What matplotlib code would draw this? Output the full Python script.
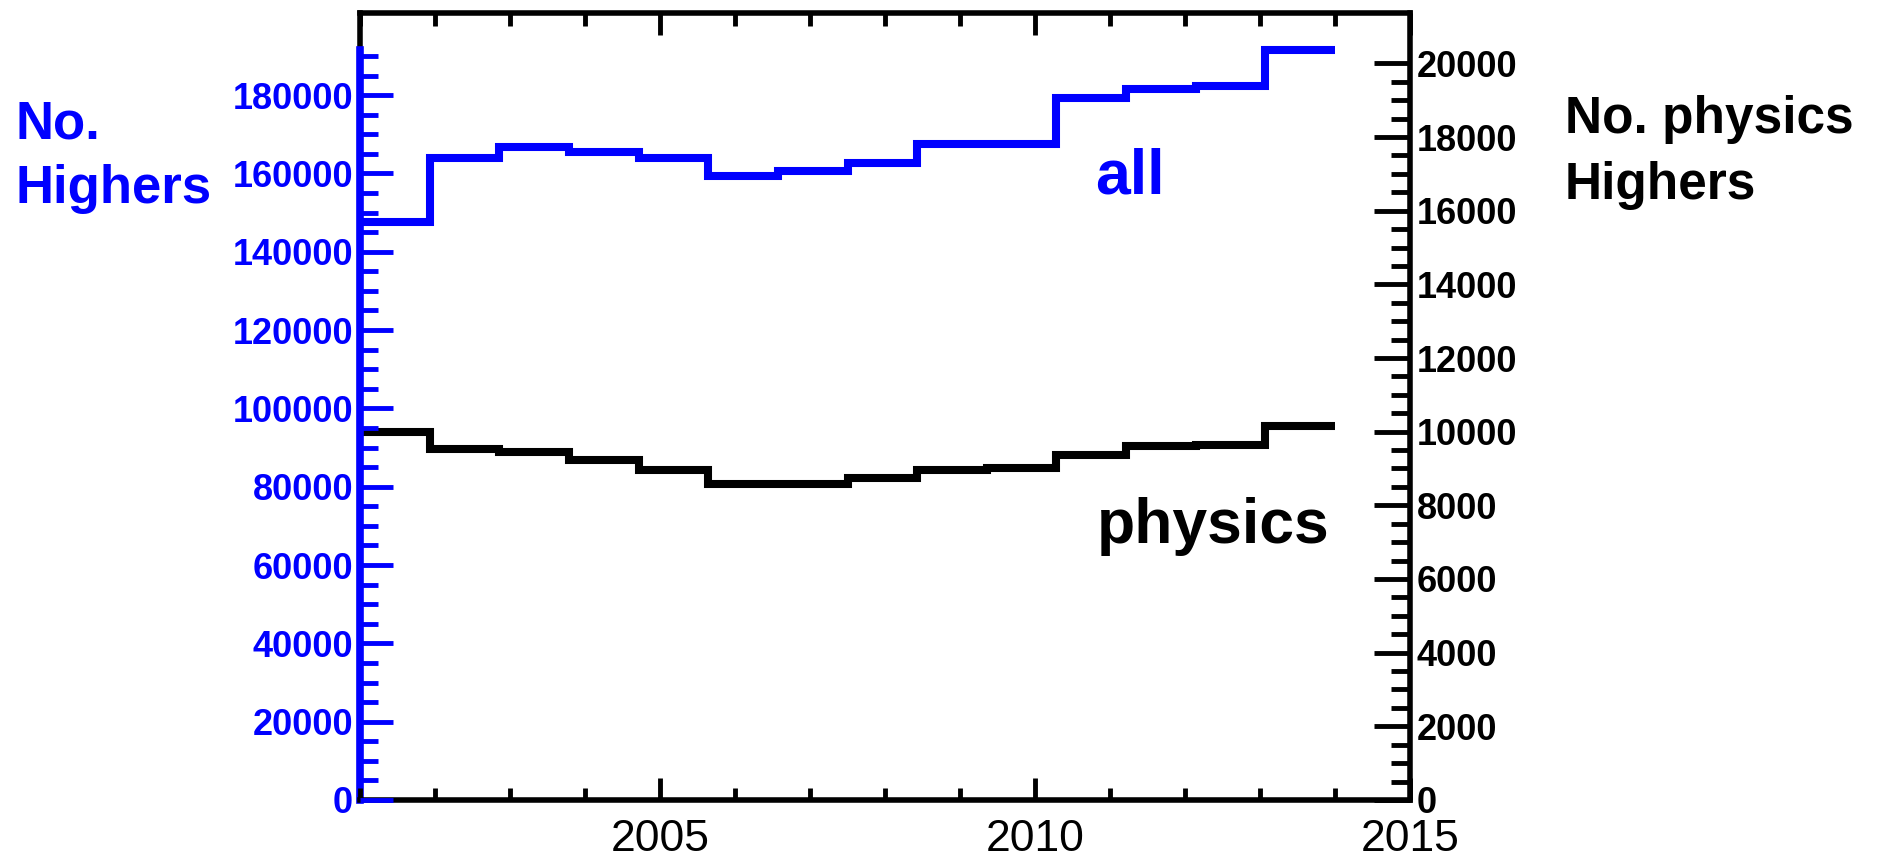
import matplotlib.pyplot as plt
import numpy as np

plt.rcParams['font.family'] = ['Liberation Sans', 'DejaVu Sans']

# 14 yearly bins, histogram spans 2001-2014
years = list(range(2001, 2015))
all_highers = [147700, 164000, 166700, 165500, 164000, 159300, 160700,
               162700, 167600, 167600, 179200, 181500, 182400, 191400]
physics_highers = [9990, 9530, 9460, 9230, 8950, 8590, 8590,
                   8740, 8950, 9020, 9370, 9620, 9640, 10150]
x_ticks = [2005, 2010, 2015]
left_ticks = list(range(0, 180001, 20000))
right_ticks = list(range(0, 20001, 2000))

bin_edges = np.linspace(years[0], years[-1], len(years) + 1)

fig = plt.figure(figsize=(18.85, 8.59), dpi=100)
ax = fig.add_subplot(111)
ax2 = ax.twinx()
fig.subplots_adjust(left=0.191, right=0.748, bottom=0.0687, top=0.985)

# left axis (all) drawn above the right one so the blue axis sits on top
ax.set_zorder(ax2.get_zorder() + 1)
ax.patch.set_visible(False)
ax.set_axisbelow(False)

ax.stairs(all_highers, bin_edges, baseline=None, color='#0000ff', lw=5.8)
ax2.stairs(physics_highers, bin_edges, baseline=None, color='black', lw=5.8)

ax.set_xlim(2001, 2015)
ax.set_ylim(0, 201000)
ax2.set_ylim(0, 21370)

# frame
for side in ['top', 'bottom']:
    ax.spines[side].set_linewidth(4)
    ax.spines[side].set_color('black')
ax.spines['right'].set_visible(False)
ax.spines['left'].set_color('#0000ff')
ax.spines['left'].set_linewidth(5.5)
ax.spines['left'].set_bounds(0, max(all_highers))
for side in ['left', 'right']:
    ax2.spines[side].set_linewidth(4)
    ax2.spines[side].set_color('black')
ax2.spines['top'].set_visible(False)
ax2.spines['bottom'].set_visible(False)

# x axis
ax.set_xticks(x_ticks, labels=[str(v) for v in x_ticks], fontsize=32)
ax.set_xticks(range(2001, 2016), minor=True)
ax.tick_params(axis='x', which='both', direction='in', top=True, width=3.5, pad=14,
               colors='black')
ax.tick_params(axis='x', which='major', length=16)
ax.tick_params(axis='x', which='minor', length=9)

# left y axis
ax.set_yticks(left_ticks, labels=[str(v) for v in left_ticks],
              fontsize=26, fontweight='bold', color='#0000ff')
ax.set_yticks(range(0, 190001, 5000), minor=True)
ax.tick_params(axis='y', which='both', direction='in', colors='#0000ff', width=3.5, pad=5)
ax.tick_params(axis='y', which='major', length=24)
ax.tick_params(axis='y', which='minor', length=13)

# right y axis
ax2.set_yticks(right_ticks, labels=[str(v) for v in right_ticks],
               fontsize=26, fontweight='bold')
ax2.set_yticks(range(0, 20001, 500), minor=True)
ax2.tick_params(axis='y', which='both', direction='in', width=3.5, pad=5)
ax2.tick_params(axis='y', which='major', length=26)
ax2.tick_params(axis='y', which='minor', length=14)

# labels
fig.text(0.0083, 0.8847, 'No.\nHighers', color='#0000ff', fontsize=38,
         fontweight='bold', va='top', ha='left', linespacing=1.38)
fig.text(0.830, 0.889, 'No. physics\nHighers', color='black', fontsize=37,
         fontweight='bold', va='top', ha='left', linespacing=1.45)
fig.text(0.581, 0.775, 'all', color='#0000ff', fontsize=45,
         fontweight='bold', va='baseline', ha='left')
fig.text(0.582, 0.368, 'physics', color='black', fontsize=45,
         fontweight='bold', va='baseline', ha='left')

plt.savefig('out.png', dpi=100)
plt.close()
